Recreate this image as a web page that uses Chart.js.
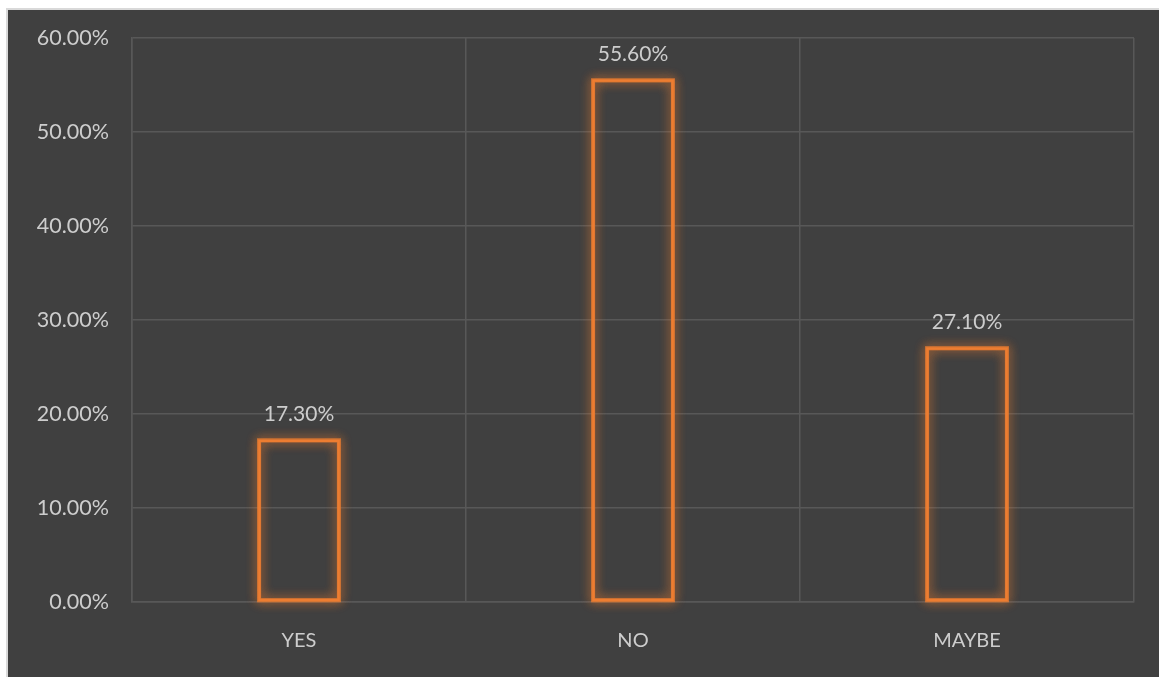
<!DOCTYPE html>
<html lang="en">
<head>
    <meta charset="UTF-8">
    <title>YES / NO / MAYBE</title>
    <script src="https://cdn.jsdelivr.net/npm/chart.js"></script>
    <style>
        html, body {
            margin: 0;
            padding: 0;
            background: #ffffff;
            overflow: hidden;
        }

        .frame {
            position: absolute;
            left: 6px;
            top: 8px;
            width: 1153px;
            height: 669px;
            background: #d9d9d9;
        }

        .chart-box {
            position: absolute;
            left: 8px;
            top: 10px;
            width: 1151px;
            height: 667px;
            background: #404040;
        }

        canvas {
            display: block;
        }
    </style>
</head>
<body>
    <div class="frame"></div>
    <div class="chart-box">
        <canvas id="answersChart" width="1151" height="667"></canvas>
    </div>

    <script>
        const categories = ['YES', 'NO', 'MAYBE'];
        const shares = [17.3, 55.6, 27.1];
        const yTicks = [0, 10, 20, 30, 40, 50, 60];

        const textColor = '#cdcdcd';
        const gridColor = '#585858';
        const barColor = '#ED7D31';
        const fontFamily = 'Lato, "Open Sans", sans-serif';

        // soft orange glow drawn under each bar outline
        const glowPlugin = {
            id: 'glow',
            beforeDatasetsDraw(chart) {
                const ctx = chart.ctx;
                const meta = chart.getDatasetMeta(0);
                ctx.save();
                ctx.strokeStyle = 'rgba(237, 125, 49, 0.55)';
                ctx.shadowColor = 'rgba(237, 125, 49, 0.9)';
                ctx.shadowBlur = 11;
                ctx.lineWidth = 4;
                meta.data.forEach(bar => {
                    const left = bar.x - bar.width / 2;
                    ctx.strokeRect(left + 1, bar.y + 1, bar.width - 2, bar.base - bar.y - 2);
                    ctx.strokeRect(left + 1, bar.y + 1, bar.width - 2, bar.base - bar.y - 2);
                });
                ctx.restore();
            }
        };

        // value labels above the bars
        const valueLabels = {
            id: 'valueLabels',
            afterDatasetsDraw(chart) {
                const ctx = chart.ctx;
                const meta = chart.getDatasetMeta(0);
                ctx.save();
                ctx.font = '21px ' + fontFamily;
                ctx.fillStyle = textColor;
                ctx.textAlign = 'center';
                ctx.textBaseline = 'middle';
                meta.data.forEach((bar, i) => {
                    ctx.fillText(shares[i].toFixed(2) + '%', bar.x, bar.y - 25);
                });
                ctx.restore();
            }
        };

        new Chart(document.getElementById('answersChart'), {
            type: 'bar',
            data: {
                labels: categories,
                datasets: [{
                    data: shares,
                    backgroundColor: 'rgba(0, 0, 0, 0)',
                    borderColor: barColor,
                    borderWidth: 2.5,
                    borderSkipped: false,
                    barPercentage: 0.245,
                    categoryPercentage: 1
                }]
            },
            options: {
                responsive: false,
                animation: false,
                events: [],
                layout: {
                    padding: { left: 0, top: 28, right: 25, bottom: 0 }
                },
                plugins: {
                    legend: { display: false },
                    tooltip: { enabled: false }
                },
                scales: {
                    x: {
                        grid: { color: gridColor, lineWidth: 1.5, drawTicks: false },
                        border: { color: gridColor, width: 1.5 },
                        ticks: {
                            color: textColor,
                            font: { family: fontFamily, size: 20 },
                            padding: 27
                        },
                        afterFit(scale) { scale.height = 75; }
                    },
                    y: {
                        min: 0,
                        max: 60,
                        afterBuildTicks(scale) {
                            scale.ticks = yTicks.map(v => ({ value: v }));
                        },
                        // invisible tick marks keep the labels away from the axis
                        grid: {
                            color: gridColor,
                            lineWidth: 1.5,
                            drawTicks: true,
                            tickLength: 21,
                            tickColor: 'rgba(0, 0, 0, 0)'
                        },
                        border: { color: gridColor, width: 1.5 },
                        ticks: {
                            color: textColor,
                            font: { family: fontFamily, size: 21.5 },
                            padding: 2,
                            callback: v => v.toFixed(2) + '%'
                        },
                        afterFit(scale) { scale.width = 124; }
                    }
                }
            },
            plugins: [glowPlugin, valueLabels]
        });
    </script>
</body>
</html>
